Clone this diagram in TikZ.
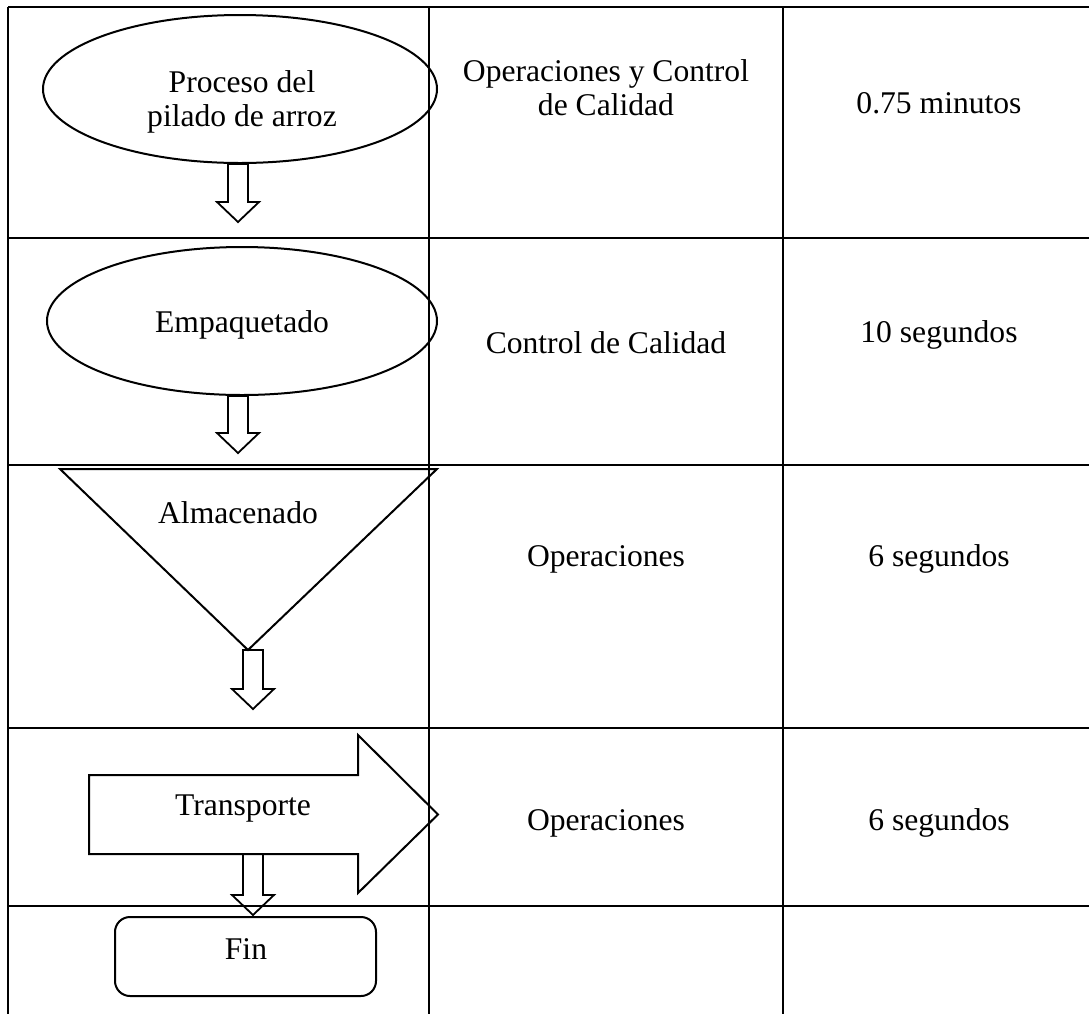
\documentclass[tikz,border=0pt]{standalone}
\usepackage{fontspec}
\setmainfont{Liberation Serif}
\usetikzlibrary{shapes.geometric,calc}

\newcommand{\flechahueca}[2]{%
  \draw[flecha] ($(#2 |- #1)+(-10,0)$) -- ($(#2)+(-10,-20)$) -- ($(#2)+(-21,-20)$)
    -- (#2) -- ($(#2)+(21,-20)$) -- ($(#2)+(10,-20)$) -- ($(#2 |- #1)+(10,0)$) -- cycle;}

\begin{document}
\begin{tikzpicture}[x=0.5pt,y=-0.5pt,
	tabla/.style={line width=1pt},
	forma/.style={draw,line width=1pt},
	proc/.style={forma,ellipse,inner sep=0pt},
	fin/.style={forma,rectangle,rounded corners=7.5pt,inner sep=0pt,minimum width=130.5pt,minimum height=39.5pt},
	flecha/.style={line width=0.9pt,line join=miter},
	txt/.style={font=\fontsize{15.8}{17}\selectfont,inner sep=0pt}]
	\useasboundingbox (0,0) rectangle (1089,1014);
	\foreach \y in {7,238,465,728,906} \draw[tabla] (8,\y) -- (1089,\y);
	\foreach \x in {8,429,783} \draw[tabla] (\x,7) -- (\x,1014);

	\node[proc,minimum width=197pt,minimum height=74pt] (pil) at (240,89) {};
	\node[txt,align=center] at (242,101.5) {Proceso del\\pilado de arroz};
	\node[proc,minimum width=195pt,minimum height=74pt] (emp) at (242,321) {};
	\node[txt,anchor=base] at (242,332) {Empaquetado};
	\coordinate (alm-a) at (60,469);
	\coordinate (alm-b) at (437,469);
	\coordinate (alm-v) at (248,650);
	\draw[forma] (alm-a) -- (alm-b) -- (alm-v) -- cycle;
	\node[txt,anchor=base] (alm) at (238,523) {Almacenado};
	\draw[forma] (89,775) -- (358,775) -- (358,735) -- (438,814.5) -- (358,893) -- (358,854) -- (89,854) -- cycle;
	\node[txt,anchor=base] (trs) at (243,815) {Transporte};
	\coordinate (trs-b) at (253,854);
	\node[fin] (fin) at (245.5,956.5) {};
	\node[txt,anchor=base] at (246,959) {Fin};

	\coordinate (t1) at (238,222);
	\coordinate (t2) at (238,453);
	\coordinate (t3) at (253,709);
	\coordinate (t4) at (253,915);
	\flechahueca{pil.south}{t1}
	\flechahueca{emp.south}{t2}
	\flechahueca{alm-v}{t3}
	\flechahueca{trs-b}{t4}

	\node[txt,align=center] (c1) at (606,88) {Operaciones y Control\\de Calidad};
	\node[txt,anchor=base] (c2) at (606,353) {Control de Calidad};
	\node[txt,anchor=base] (c3) at (606,566) {Operaciones};
	\node[txt,anchor=base] (c4) at (606,830) {Operaciones};
	\node[txt,anchor=base] (d1) at (939,113) {0.75 minutos};
	\node[txt,anchor=base] (d2) at (939,342) {10 segundos};
	\node[txt,anchor=base] (d3) at (939,566) {6 segundos};
	\node[txt,anchor=base] (d4) at (939,830) {6 segundos};
\end{tikzpicture}
\end{document}
